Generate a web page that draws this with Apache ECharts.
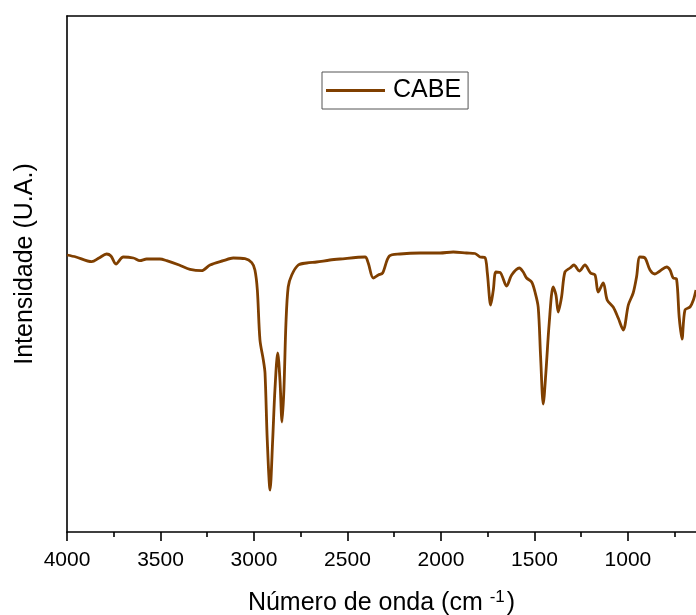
<!DOCTYPE html>
<html>
<head>
<meta charset="utf-8">
<script src="https://cdn.jsdelivr.net/npm/echarts@6/dist/echarts.min.js"></script>
<style>
html,body{margin:0;padding:0;background:#fff;overflow:hidden;}
#chart{width:696px;height:615px;}
</style>
</head>
<body>
<div id="chart"></div>
<script>
// Wavenumbers (cm-1) and intensity (arbitrary units)
var wavenumbers = [4000,3952,3868,3829,3788,3765,3738,3699,3645,3610,3574,3503,3467,3400,3342,3280,3235,3164,3111,3048,3012,2995,2982,2968,2950,2941,2929,2914,2900,2888,2873,2861,2850,2840,2829,2817,2798,2763,2718,2665,2594,2540,2406,2389,2362,2335,2312,2276,2219,2112,2005,1934,1863,1818,1791,1765,1752,1734,1720,1706,1681,1649,1622,1581,1560,1542,1515,1497,1480,1467,1453,1439,1421,1400,1385,1373,1355,1337,1310,1289,1260,1230,1200,1176,1159,1132,1111,1079,1052,1025,998,972,954,936,909,882,856,829,793,775,758,740,726,711,695,668,650,636];
var intensity = [277,275,270.3,274,278,276,268,275,274,271.3,273,273,271.3,267,262.7,261.3,267,271.3,274,273.3,269.3,262,242,192,172,159,92,42,92,142,179,152,110,142,209,245,257,267,269,270,272,273,275,269,254,257,259,276,278,279,279,280,279,278.5,275,274.5,259,227,242,260,259,246,257,264,260,254,250,240,225,175,128,159,209,245,237,220,235,260,264,267,261,267,259,257,240,249,232,225,214,202,227,239,255,275,274,262,258,261,265,262,254,253,215,193,222,225,232,242];
var seriesName = 'CABE';
var majorTicks = [4000,3500,3000,2500,2000,1500,1000];
var minorTicks = [3750,3250,2750,2250,1750,1250,750];

var data = wavenumbers.map(function(w,i){return [w,intensity[i]];});
var font = "'Liberation Sans', Arial, Helvetica, sans-serif";
var chart = echarts.init(document.getElementById('chart'));
chart.setOption({
  animation:false,
  backgroundColor:'#ffffff',
  grid:{left:67, right:0, top:16, bottom:83, containLabel:false, outerBoundsMode:'none'},
  legend:{
    data:[seriesName],
    left:322, top:72,
    padding:[6,7,6,4],
    borderColor:'#555', borderWidth:1,
    icon:'rect',
    itemWidth:59, itemHeight:3,
    textStyle:{fontSize:25, fontFamily:font, color:'#000', padding:[0,0,0,3]}
  },
  xAxis:[{
    type:'value', inverse:true, min:636, max:4000,
    position:'bottom',
    axisLine:{show:true, lineStyle:{color:'#000', width:1.6}},
    axisTick:{show:true, length:9, customValues:majorTicks, lineStyle:{color:'#000', width:1.6}},
    splitLine:{show:false},
    axisLabel:{fontSize:21, fontFamily:font, color:'#000', margin:18, customValues:majorTicks,
      formatter:function(v){return String(v);}},
    name:'Número de onda (cm {sup|-1})',
    nameLocation:'middle', nameGap:57,
    nameTextStyle:{fontSize:25, fontFamily:font, color:'#000',
      rich:{sup:{fontSize:17, fontFamily:font, color:'#000', verticalAlign:'top', padding:[0,2,12,0]}}}
  },{
    type:'value', inverse:true, min:636, max:4000,
    position:'bottom',
    axisLine:{show:false},
    axisTick:{show:true, length:5, customValues:minorTicks, lineStyle:{color:'#000', width:1.6}},
    axisLabel:{show:false}, splitLine:{show:false}
  },{
    type:'value', inverse:true, min:636, max:4000,
    position:'top',
    axisLine:{show:true, onZero:false, lineStyle:{color:'#000', width:1.6}},
    axisTick:{show:false}, axisLabel:{show:false}, splitLine:{show:false}
  }],
  yAxis:{
    type:'value', min:0, max:516,
    axisLine:{show:true, lineStyle:{color:'#000', width:1.6}},
    axisTick:{show:false}, axisLabel:{show:false}, splitLine:{show:false},
    name:'Intensidade (U.A.)', nameLocation:'middle', nameGap:29,
    nameTextStyle:{fontSize:25, fontFamily:font, color:'#000', padding:[0,0,0,20]}
  },
  series:[{
    name:seriesName, type:'line', data:data, symbol:'none', smooth:0.3,
    lineStyle:{color:'#7f3f00', width:2.8},
    itemStyle:{color:'#7f3f00'}
  }]
});
</script>
</body>
</html>
